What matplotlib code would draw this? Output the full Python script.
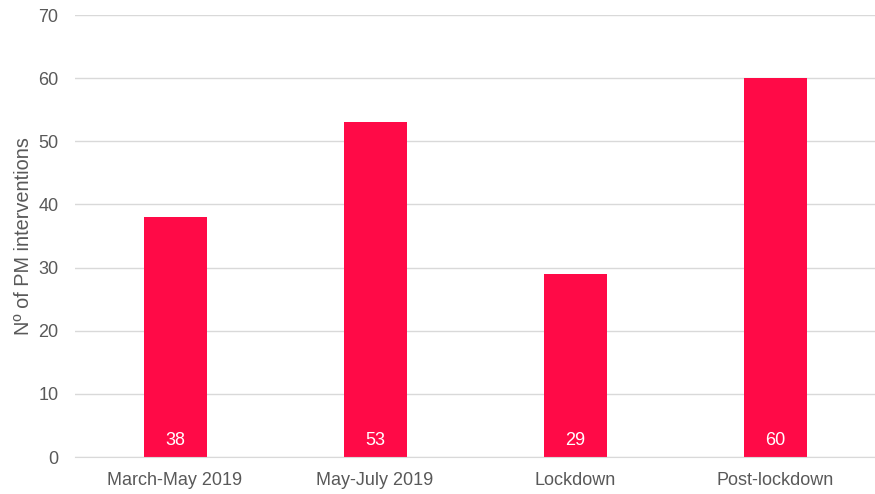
import matplotlib.pyplot as plt

plt.rcParams['font.family'] = ['Liberation Sans', 'DejaVu Sans']

periods = ['March-May 2019', 'May-July 2019', 'Lockdown', 'Post-lockdown']
interventions = [38, 53, 29, 60]

bar_color = '#FF0A47'
text_gray = '#595959'
grid_gray = '#D9D9D9'

fig = plt.figure(figsize=(8.75, 4.94), dpi=100)
ax = fig.add_axes([75 / 875, 37 / 494, 800 / 875, 442 / 494])

x = range(len(periods))
bars = ax.bar(x, interventions, width=0.315, color=bar_color, zorder=2)

for xi, v in zip(x, interventions):
    ax.text(xi, 1.3, str(v), ha='center', va='bottom', color='white', fontsize=13, zorder=3)

ax.set_xlim(-0.5, 3.5)
ax.set_ylim(0, 70)
ax.set_yticks(range(0, 71, 10))
ax.set_xticks(list(x))
ax.set_xticklabels(periods)
ax.yaxis.grid(True, color=grid_gray, linewidth=1, zorder=0)
ax.set_axisbelow(True)

for side in ['top', 'right', 'left']:
    ax.spines[side].set_visible(False)
ax.spines['bottom'].set_color(grid_gray)
ax.tick_params(axis='both', length=0, labelsize=13, labelcolor=text_gray)
ax.tick_params(axis='y', pad=12)
ax.tick_params(axis='x', pad=11)
ax.set_ylabel('Nº of PM interventions', fontsize=14.3, color=text_gray, labelpad=4)

fig.savefig('out.png', dpi=100)
